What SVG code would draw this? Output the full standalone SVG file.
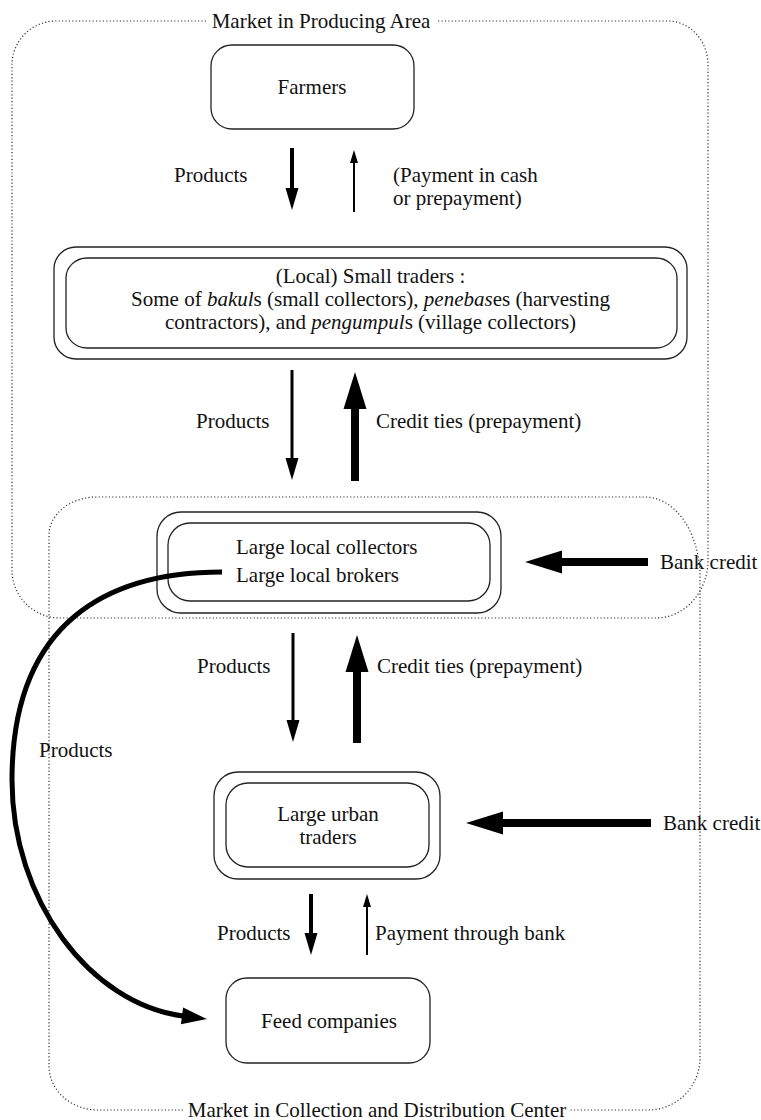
<svg xmlns="http://www.w3.org/2000/svg" width="761" height="1120" viewBox="0 0 761 1120">
<style>
  text { font-family: "Liberation Serif", "Times New Roman", serif; font-size: 21px; fill: #111; }
  .mid { text-anchor: middle; }
  .it { font-style: italic; }
  .box { fill: none; stroke: #222; stroke-width: 1.3; }
  .zone { fill: none; stroke: #333; stroke-width: 1.2; stroke-dasharray: 1.2 2.2; }
  .thick { stroke: #000; stroke-width: 8; fill: none; }
  .med { stroke: #000; stroke-width: 4; fill: none; }
  .thin { stroke: #000; stroke-width: 3; fill: none; }
  .hair { stroke: #000; stroke-width: 2; fill: none; }
  .curve { stroke: #000; stroke-width: 5; fill: none; }
</style>
<defs>
  <marker id="hBig" markerUnits="userSpaceOnUse" viewBox="0 0 37 23" markerWidth="37" markerHeight="23" refX="1" refY="11.5" orient="auto" overflow="visible">
    <path d="M0,0 L37,11.5 L0,23 Z" fill="#000"/>
  </marker>
  <marker id="hMed" markerUnits="userSpaceOnUse" viewBox="0 0 22 13" markerWidth="22" markerHeight="13" refX="1" refY="6.5" orient="auto" overflow="visible">
    <path d="M0,0 L22,6.5 L0,13 Z" fill="#000"/>
  </marker>
  <marker id="hSmall" markerUnits="userSpaceOnUse" viewBox="0 0 13 8" markerWidth="13" markerHeight="8" refX="1" refY="4" orient="auto" overflow="visible">
    <path d="M0,0 L13,4 L0,8 Z" fill="#000"/>
  </marker>
  <marker id="hCurve" markerUnits="userSpaceOnUse" viewBox="0 0 25 17" markerWidth="25" markerHeight="17" refX="1" refY="8.5" orient="auto" overflow="visible">
    <path d="M0,0 L25,8.5 L0,17 Z" fill="#000"/>
  </marker>
</defs>

<g id="zone-producing">
  <path class="zone" d="M206,21 H56 A44,44 0 0 0 12,65 V570 A48,48 0 0 0 60,618 H656 A52,58 0 0 0 708,560 V65 A40,44 0 0 0 668,21 H437"/>
  <text x="321" y="28" class="mid">Market in Producing Area</text>
</g>

<g id="zone-collection">
  <path class="zone" d="M183,1110 H98 A49,44 0 0 1 49,1066 V535 A48,38 0 0 1 97,497 H645 A55,80 0 0 1 700,577 V1058 A52,52 0 0 1 648,1110 H570"/>
  <text x="377" y="1117" class="mid">Market in Collection and Distribution Center</text>
</g>

<g id="farmers">
  <rect class="box" x="211" y="45" width="203" height="84" rx="21" ry="21"/>
  <text x="312" y="94" class="mid">Farmers</text>
</g>

<g id="small-traders">
  <rect class="box" x="54" y="247" width="633" height="112" rx="22" ry="22"/>
  <rect class="box" x="66" y="258" width="611" height="90" rx="21" ry="20"/>
  <text x="370.5" y="283" class="mid">(Local) Small traders :</text>
  <text x="370.5" y="306" class="mid">Some of <tspan class="it">bakul</tspan>s (small collectors), <tspan class="it">penebas</tspan>es (harvesting</text>
  <text x="370.5" y="329" class="mid">contractors), and <tspan class="it">pengumpul</tspan>s (village collectors)</text>
</g>

<g id="large-local">
  <rect class="box" x="157" y="512" width="344" height="101" rx="24" ry="24"/>
  <rect class="box" x="168" y="523" width="322" height="78" rx="22" ry="22"/>
  <text x="236" y="554">Large local collectors</text>
  <text x="236" y="582">Large local brokers</text>
</g>

<g id="large-urban">
  <rect class="box" x="214" y="772" width="226" height="107" rx="24" ry="24"/>
  <rect class="box" x="226" y="783" width="203" height="84" rx="22" ry="22"/>
  <text x="328" y="821" class="mid">Large urban</text>
  <text x="328" y="844" class="mid">traders</text>
</g>

<g id="feed-companies">
  <rect class="box" x="226" y="978" width="204" height="85" rx="21" ry="21"/>
  <text x="329" y="1028" class="mid">Feed companies</text>
</g>

<g id="connectors">
  <line class="med" x1="292" y1="148" x2="292" y2="189" marker-end="url(#hMed)"/>
  <line class="hair" x1="354" y1="212" x2="354" y2="162" marker-end="url(#hSmall)"/>
  <line class="thin" x1="292" y1="370" x2="292" y2="459" marker-end="url(#hMed)"/>
  <line class="thick" x1="355" y1="481" x2="355" y2="408" marker-end="url(#hBig)"/>
  <line class="thick" x1="648" y1="562" x2="561" y2="562" marker-end="url(#hBig)"/>
  <line class="thin" x1="293" y1="633" x2="293" y2="721" marker-end="url(#hMed)"/>
  <line class="thick" x1="357" y1="743" x2="357" y2="671" marker-end="url(#hBig)"/>
  <line class="thick" x1="651" y1="823" x2="502" y2="823" marker-end="url(#hBig)"/>
  <line class="med" x1="311" y1="894" x2="311" y2="934" marker-end="url(#hMed)"/>
  <line class="hair" x1="367" y1="955" x2="367" y2="906" marker-end="url(#hSmall)"/>
  <path class="curve" d="M222,572 C110,572 12,620 12,780 C12,900 90,1004 183,1016" marker-end="url(#hCurve)"/>
</g>

<g id="labels">
  <text x="174" y="182">Products</text>
  <text x="393" y="182">(Payment in cash</text>
  <text x="393" y="205">or prepayment)</text>
  <text x="196" y="428">Products</text>
  <text x="376" y="428">Credit ties (prepayment)</text>
  <text x="660" y="569">Bank credit</text>
  <text x="197" y="673">Products</text>
  <text x="377" y="673">Credit ties (prepayment)</text>
  <text x="39" y="757">Products</text>
  <text x="663" y="830">Bank credit</text>
  <text x="217" y="940">Products</text>
  <text x="375" y="940">Payment through bank</text>
</g>
</svg>
